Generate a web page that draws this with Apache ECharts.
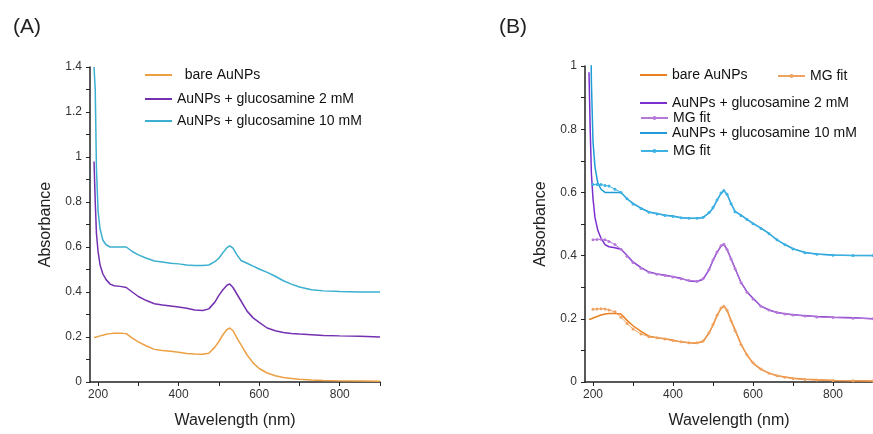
<!DOCTYPE html>
<html>
<head>
<meta charset="utf-8">
<script src="https://cdn.jsdelivr.net/npm/echarts@6/dist/echarts.min.js"></script>
<style>
  html, body { margin: 0; padding: 0; background: #fff; }
  #chart { width: 873px; height: 434px; }
</style>
</head>
<body>
<div id="chart"></div>
<script>
// wavelength grid (nm) shared by the measured spectra
var wavelength = [190, 193, 196, 200, 205, 212, 220, 230, 240, 255, 270, 285, 300, 320, 340, 360, 380, 400, 420, 440,
    460, 475, 490, 500, 510, 520, 527, 535, 545, 555, 570, 585, 600, 620, 640, 660, 680, 700, 730, 760, 800, 850, 900];

var bareAuNPs = [0.198, 0.200, 0.200, 0.203, 0.205, 0.208, 0.212, 0.215, 0.217, 0.217, 0.215, 0.195, 0.178, 0.160, 0.145, 0.140, 0.137, 0.132, 0.127, 0.124,
    0.123, 0.128, 0.155, 0.180, 0.210, 0.233, 0.240, 0.228, 0.195, 0.165, 0.120, 0.085, 0.060, 0.040, 0.028, 0.020, 0.016, 0.012, 0.009, 0.007, 0.005, 0.004, 0.003];

var gluc2mM = [0.98, 0.80, 0.66, 0.58, 0.52, 0.48, 0.455, 0.435, 0.428, 0.425, 0.420, 0.400, 0.380, 0.362, 0.348, 0.342, 0.338, 0.333, 0.328, 0.320,
    0.318, 0.325, 0.355, 0.385, 0.410, 0.430, 0.436, 0.420, 0.390, 0.360, 0.315, 0.285, 0.265, 0.240, 0.228, 0.220, 0.216, 0.213, 0.210, 0.207, 0.205, 0.203, 0.200];

var gluc10mM = [1.40, 1.30, 0.95, 0.76, 0.68, 0.63, 0.61, 0.60, 0.60, 0.60, 0.60, 0.58, 0.565, 0.550, 0.538, 0.533, 0.528, 0.525, 0.520, 0.518,
    0.518, 0.520, 0.535, 0.550, 0.575, 0.597, 0.605, 0.595, 0.565, 0.540, 0.528, 0.515, 0.502, 0.487, 0.470, 0.450, 0.435, 0.422, 0.410, 0.405, 0.402, 0.400, 0.400];

// MG fit curves (panel B)
var fitWavelength = [200, 210, 220, 230, 240, 255, 270, 285, 300, 320, 340, 360, 380, 400, 420, 440, 460, 475, 490, 500,
    510, 520, 527, 535, 545, 555, 570, 585, 600, 620, 640, 660, 680, 700, 730, 760, 800, 850, 900];

var fitBare = [0.230, 0.231, 0.232, 0.231, 0.228, 0.222, 0.205, 0.185, 0.168, 0.152, 0.143, 0.140, 0.136, 0.131, 0.127, 0.124,
    0.124, 0.130, 0.156, 0.182, 0.211, 0.234, 0.240, 0.227, 0.194, 0.163, 0.119, 0.086, 0.061, 0.041, 0.028, 0.020, 0.015, 0.011, 0.008, 0.006, 0.005, 0.004, 0.003];

var fit2mM = [0.450, 0.451, 0.452, 0.450, 0.445, 0.435, 0.420, 0.398, 0.378, 0.360, 0.347, 0.341, 0.337, 0.332, 0.327, 0.321,
    0.319, 0.327, 0.356, 0.386, 0.411, 0.431, 0.436, 0.419, 0.389, 0.358, 0.314, 0.284, 0.263, 0.240, 0.228, 0.220, 0.215, 0.212, 0.209, 0.206, 0.204, 0.202, 0.200];

var fit10mM = [0.625, 0.625, 0.625, 0.622, 0.620, 0.610, 0.600, 0.580, 0.563, 0.549, 0.537, 0.532, 0.527, 0.524, 0.520, 0.518,
    0.518, 0.521, 0.536, 0.552, 0.576, 0.598, 0.606, 0.594, 0.564, 0.539, 0.527, 0.514, 0.501, 0.486, 0.469, 0.450, 0.434, 0.421, 0.409, 0.404, 0.401, 0.400, 0.400];

// ticks
var xTicks = [200, 300, 400, 500, 600, 700, 800, 900];
var xTickLabels = [200, 400, 600, 800];

function zip(xs, ys) {
    var out = [];
    for (var i = 0; i < xs.length; i++) {
        out.push([xs[i], ys[i]]);
    }
    return out;
}

var font = 'Liberation Sans, Arial, sans-serif';

function xAxisFor(idx) {
    return {
        gridIndex: idx,
        type: 'value',
        min: 180,
        max: 900,
        name: 'Wavelength (nm)',
        nameLocation: 'middle',
        nameGap: 31,
        nameTextStyle: { fontFamily: font, fontSize: 16, color: '#222' },
        axisLine: { lineStyle: { color: '#222', width: 1.5 } },
        axisTick: { show: true, length: 4, customValues: xTicks, lineStyle: { color: '#222' } },
        axisLabel: { customValues: xTickLabels, fontFamily: font, fontSize: 12, color: '#333', margin: 7 },
        splitLine: { show: false }
    };
}

function yAxisFor(idx, max) {
    return {
        gridIndex: idx,
        type: 'value',
        min: 0,
        max: max,
        interval: 0.2,
        name: 'Absorbance',
        nameLocation: 'middle',
        nameGap: 36,
        nameTextStyle: { fontFamily: font, fontSize: 16, color: '#222' },
        axisLine: { show: true, lineStyle: { color: '#222', width: 1.5 } },
        axisTick: { show: true, length: 4, lineStyle: { color: '#222' } },
        minorTick: { show: true, splitNumber: 2, length: 4, lineStyle: { color: '#222' } },
        axisLabel: { fontFamily: font, fontSize: 12, color: '#333', margin: 8 },
        splitLine: { show: false }
    };
}

function dataLine(name, idx, values, color) {
    return {
        name: name,
        type: 'line',
        xAxisIndex: idx,
        yAxisIndex: idx,
        data: zip(wavelength, values),
        showSymbol: false,
        symbol: 'none',
        lineStyle: { color: color, width: 1.5 },
        itemStyle: { color: color },
        animation: false
    };
}

function fitLine(name, values, color) {
    return {
        name: name,
        type: 'line',
        xAxisIndex: 1,
        yAxisIndex: 1,
        data: zip(fitWavelength, values),
        symbol: 'circle',
        symbolSize: 3,
        showSymbol: true,
        lineStyle: { color: color, width: 1 },
        itemStyle: { color: color },
        animation: false
    };
}

var legendText = { fontFamily: font, fontSize: 14, color: '#111' };

// plain line icon for measured spectra, line + dot for the fits
function legendAt(name, left, top, isFit) {
    return {
        data: [isFit ? name : { name: name, icon: 'rect' }],
        left: left,
        top: top,
        padding: 0,
        itemWidth: 27,
        itemHeight: isFit ? 5 : 2,
        itemGap: 6,
        textStyle: legendText,
        formatter: function (n) { return n.split('|')[0]; }
    };
}

var chart = echarts.init(document.getElementById('chart'));

var options = {
    backgroundColor: '#fff',
    animation: false,
    title: [
        { text: '(A)', left: 8, top: 12, textStyle: { fontFamily: font, fontSize: 21, fontWeight: 'normal', color: '#222' } },
        { text: '(B)', left: 494, top: 12, textStyle: { fontFamily: font, fontSize: 21, fontWeight: 'normal', color: '#222' } }
    ],
    grid: [
        { left: 90, top: 67, width: 290, height: 318 },
        { left: 585, top: 66, width: 288, height: 320 }
    ],
    xAxis: [xAxisFor(0), xAxisFor(1)],
    yAxis: [yAxisFor(0, 1.4), yAxisFor(1, 1)],
    legend: [
        legendAt('  bare AuNPs|A', 145, 68),
        legendAt('AuNPs + glucosamine 2 mM|A', 145, 92),
        legendAt('AuNPs + glucosamine 10 mM|A', 145, 114),
        legendAt('bare AuNPs|B', 640, 68),
        legendAt('MG fit|orange', 777, 69, true),
        legendAt('AuNPs + glucosamine 2 mM|B', 640, 96),
        legendAt('MG fit|purple', 640, 111, true),
        legendAt('AuNPs + glucosamine 10 mM|B', 640, 126),
        legendAt('MG fit|cyan', 640, 144, true)
    ],
    series: [
        dataLine('  bare AuNPs|A', 0, bareAuNPs, '#EDA043'),
        dataLine('AuNPs + glucosamine 2 mM|A', 0, gluc2mM, '#7430B0'),
        dataLine('AuNPs + glucosamine 10 mM|A', 0, gluc10mM, '#3BAFCF'),
        dataLine('bare AuNPs|B', 1, bareAuNPs, '#E9801F'),
        dataLine('AuNPs + glucosamine 2 mM|B', 1, gluc2mM, '#7A2FCF'),
        dataLine('AuNPs + glucosamine 10 mM|B', 1, gluc10mM, '#1F9BD6'),
        fitLine('MG fit|orange', fitBare, '#F0A261'),
        fitLine('MG fit|purple', fit2mM, '#B57AD8'),
        fitLine('MG fit|cyan', fit10mM, '#3DB2E3')
    ]
};

chart.setOption(options);
window.onresize = function () {
    chart.resize();
};
</script>
</body>
</html>
